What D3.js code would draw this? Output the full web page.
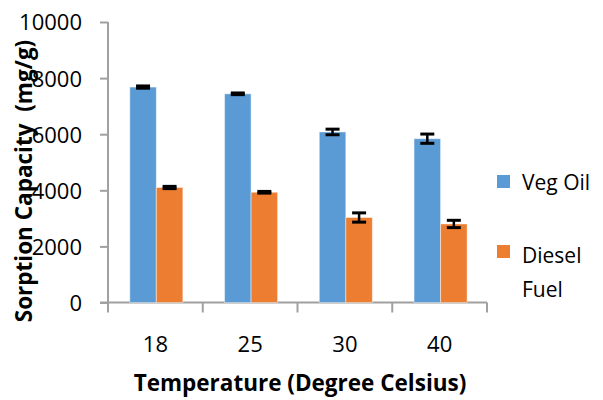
<!DOCTYPE html>
<html>
<head>
<meta charset="utf-8">
<script src="https://cdn.jsdelivr.net/npm/d3@7"></script>
<style>
  body { margin: 0; background: #fff; }
  text { font-family: "Open Sans", Lato, sans-serif; fill: #000; }
</style>
</head>
<body>
<div id="chart"></div>
<script>
// data
const temps = ['18', '25', '30', '40']
const vegOil = [7680, 7440, 6080, 5840]
const vegOilErr = [40, 30, 100, 165]
const diesel = [4100, 3930, 3030, 2800]
const dieselErr = [40, 30, 165, 130]
const yTicks = [0, 2000, 4000, 6000, 8000, 10000]
const seriesNames = ['Veg Oil', 'Diesel Fuel']
const colors = ['#5B9BD5', '#ED7D31']

const w = 603,
      h = 400,
      plotLeft = 108,
      plotRight = 487,
      plotTop = 22,
      plotBottom = 302.5

const svg = d3.select('#chart')
    .append('svg')
    .attr('width', w)
    .attr('height', h)

const xScale = d3.scaleBand()
    .domain(temps)
    .range([plotLeft, plotRight])

const inner = d3.scaleBand()
    .domain([0, 1])
    .range([xScale.bandwidth() * 0.23, xScale.bandwidth() * 0.79])

const yScale = d3.scaleLinear()
    .domain([0, 10000])
    .range([plotBottom, plotTop])

const axisColor = '#a0a0a0'

// y axis
const yAxis = d3.axisLeft(yScale).tickValues(yTicks).tickFormat(d3.format('d')).tickSize(8).tickPadding(18)
const gy = svg.append('g')
    .attr('transform', 'translate(' + plotLeft + ',0)')
    .call(yAxis)
gy.select('.domain').remove()
gy.selectAll('line').attr('stroke', axisColor).attr('stroke-width', 2)
gy.selectAll('text').style('font-size', '22px').attr('dy', '0.36em')
gy.append('line')
    .attr('x1', 0).attr('x2', 0)
    .attr('y1', plotTop).attr('y2', plotBottom + 10)
    .attr('stroke', axisColor).attr('stroke-width', 2)

// x axis
const xAxis = d3.axisBottom(xScale).tickSize(0).tickPadding(34)
const gx = svg.append('g')
    .attr('transform', 'translate(0,' + plotBottom + ')')
    .call(xAxis)
gx.select('.domain').remove()
gx.selectAll('text').style('font-size', '22px')
gx.append('line')
    .attr('x1', plotLeft - 8).attr('x2', plotRight)
    .attr('y1', 0).attr('y2', 0)
    .attr('stroke', axisColor).attr('stroke-width', 2)
gx.selectAll('.sep')
    .data(temps.slice(1).map(d => xScale(d)).concat([plotRight]))
    .enter()
    .append('line')
    .attr('x1', d => d).attr('x2', d => d)
    .attr('y1', 0).attr('y2', 10)
    .attr('stroke', axisColor).attr('stroke-width', 2)

// bars
const series = [
    { name: seriesNames[0], values: vegOil, err: vegOilErr },
    { name: seriesNames[1], values: diesel, err: dieselErr }
]

series.forEach((s, si) => {
    svg.selectAll('.bar' + si)
        .data(s.values)
        .enter()
        .append('rect')
        .attr('x', (d, i) => xScale(temps[i]) + inner(si))
        .attr('y', d => yScale(d))
        .attr('width', inner.bandwidth())
        .attr('height', d => yScale(0) - yScale(d))
        .attr('fill', colors[si])
        .attr('stroke', 'rgba(255,255,255,0.45)')
        .attr('stroke-width', 1)

    // error bars
    const eb = svg.selectAll('.err' + si)
        .data(s.values)
        .enter()
        .append('g')
        .attr('transform', (d, i) => 'translate(' + (xScale(temps[i]) + inner(si) + inner.bandwidth() / 2) + ',0)')
    eb.append('line')
        .attr('y1', (d, i) => yScale(d + s.err[i]))
        .attr('y2', (d, i) => yScale(d - s.err[i]))
        .attr('stroke', '#000').attr('stroke-width', 2.5)
    eb.append('line')
        .attr('x1', -7).attr('x2', 7)
        .attr('y1', (d, i) => yScale(d + s.err[i]))
        .attr('y2', (d, i) => yScale(d + s.err[i]))
        .attr('stroke', '#000').attr('stroke-width', 3)
    eb.append('line')
        .attr('x1', -7).attr('x2', 7)
        .attr('y1', (d, i) => yScale(d - s.err[i]))
        .attr('y2', (d, i) => yScale(d - s.err[i]))
        .attr('stroke', '#000').attr('stroke-width', 3)
})

// axis titles
svg.append('text')
    .text('Temperature (Degree Celsius)')
    .attr('x', 300)
    .attr('y', 391)
    .attr('text-anchor', 'middle')
    .style('font-size', '22.5px')
    .style('font-weight', 'bold')

svg.append('text')
    .text('Sorption Capacity  (mg/g)')
    .attr('transform', 'translate(32,181) rotate(-90)')
    .attr('text-anchor', 'middle')
    .style('white-space', 'pre')
    .style('font-size', '22.5px')
    .style('font-weight', 'bold')

// legend
const legend = svg.append('g')
legend.append('rect')
    .attr('x', 497).attr('y', 175).attr('width', 13).attr('height', 13)
    .attr('fill', colors[0])
legend.append('text')
    .text('Veg Oil')
    .attr('x', 522).attr('y', 190)
    .style('font-size', '21px')
legend.append('rect')
    .attr('x', 497).attr('y', 245).attr('width', 13).attr('height', 13)
    .attr('fill', colors[1])
legend.append('text')
    .text('Diesel')
    .attr('x', 522).attr('y', 263)
    .style('font-size', '21px')
legend.append('text')
    .text('Fuel')
    .attr('x', 522).attr('y', 297)
    .style('font-size', '21px')
</script>
</body>
</html>
